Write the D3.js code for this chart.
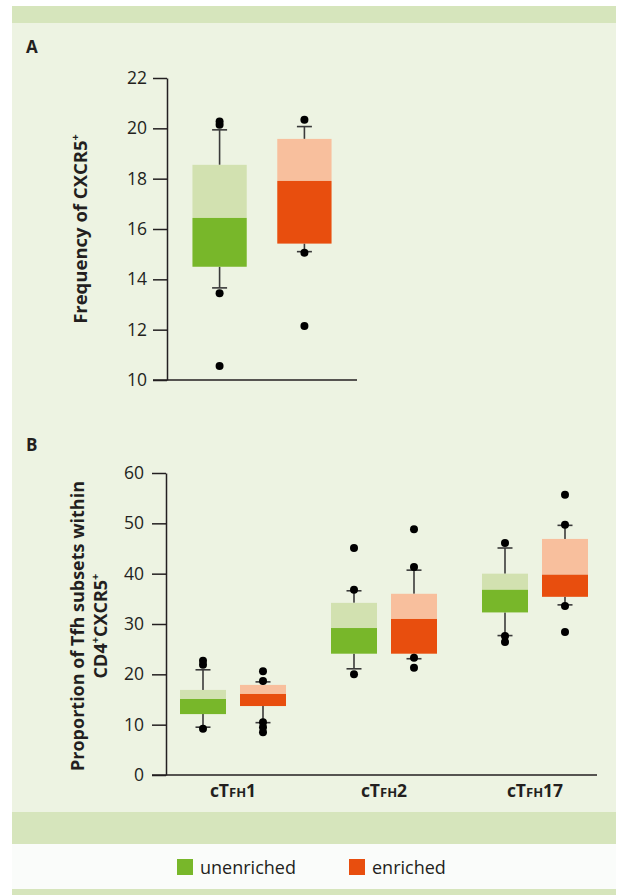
<!DOCTYPE html>
<html>
<head>
<meta charset="utf-8">
<script src="https://cdn.jsdelivr.net/npm/d3@7"></script>
<style>
  body { margin: 0; background: #fff; }
  svg text { font-family: "Open Sans", "Noto Sans", sans-serif; fill: #231f20; }
</style>
</head>
<body>
<div id="chart"></div>
<script>
// series
const seriesNames = ['unenriched', 'enriched'];
const colorsDark = ['#78b72a', '#e84e0e'];
const colorsLight = ['#d2e1b0', '#f8bf9d'];

// panel A: [whisker low, q1, median, q3, whisker high] per series
const aBox = [
  [13.66, 14.5, 16.44, 18.55, 19.94],
  [15.1, 15.42, 17.91, 19.58, 20.07]
];
const aDots = [
  [20.27, 20.14, 13.45, 10.56],
  [20.34, 15.06, 12.15]
];
const aTicks = [10, 12, 14, 16, 18, 20, 22];

// panel B
const groups = ['1', '2', '17'];
const bUnenrichedBox = [
  [9.5, 12.1, 15.1, 16.9, 20.9],
  [21.1, 24.1, 29.2, 34.2, 36.6],
  [27.7, 32.3, 36.8, 40.0, 45.1]
];
const bUnenrichedDots = [
  [22.7, 21.9, 9.2],
  [45.1, 36.8, 20.0],
  [46.1, 27.6, 26.4]
];
const bEnrichedBox = [
  [10.4, 13.7, 16.1, 17.9, 18.5],
  [23.1, 24.1, 31.0, 36.0, 40.7],
  [33.8, 35.4, 39.8, 46.9, 49.6]
];
const bEnrichedDots = [
  [20.6, 18.7, 10.5, 9.5, 8.5],
  [48.8, 41.3, 23.3, 21.3],
  [55.7, 49.7, 33.6, 28.4]
];
const bTicks = [0, 10, 20, 30, 40, 50, 60];

const W = 617, H = 895;
const svg = d3.select('#chart').append('svg')
  .attr('width', W)
  .attr('height', H);

// background panels
svg.append('rect').attr('x', 12).attr('y', 6).attr('width', 604).attr('height', 17).attr('fill', '#d6e5bc');
svg.append('rect').attr('x', 12).attr('y', 23).attr('width', 604).attr('height', 789).attr('fill', '#edf3e2');
svg.append('rect').attr('x', 12).attr('y', 812).attr('width', 604).attr('height', 32).attr('fill', '#d6e5bc');
svg.append('rect').attr('x', 12).attr('y', 844).attr('width', 604).attr('height', 45).attr('fill', '#fafcfa');
svg.append('rect').attr('x', 12).attr('y', 889).attr('width', 604).attr('height', 6).attr('fill', '#d6e5bc');

const axisColor = '#231f20';
const whiskerColor = '#3a3a3a';

function styleAxis(g) {
  g.selectAll('path, line').attr('stroke', axisColor).attr('stroke-width', 1.5);
  g.selectAll('text').attr('font-size', 17.5).attr('fill', axisColor)
    .style('font-family', '"Open Sans", sans-serif');
}

// draw one box: stats = [lo, q1, med, q3, hi]
function drawBox(g, cx, w, stats, dots, si, y) {
  const [lo, q1, med, q3, hi] = stats;
  // whiskers
  g.append('line').attr('x1', cx).attr('x2', cx).attr('y1', y(q3)).attr('y2', y(hi))
    .attr('stroke', whiskerColor).attr('stroke-width', 1.6);
  g.append('line').attr('x1', cx).attr('x2', cx).attr('y1', y(q1)).attr('y2', y(lo))
    .attr('stroke', whiskerColor).attr('stroke-width', 1.6);
  [lo, hi].forEach(v => {
    g.append('line').attr('x1', cx - 7.5).attr('x2', cx + 7.5).attr('y1', y(v)).attr('y2', y(v))
      .attr('stroke', whiskerColor).attr('stroke-width', 1.6);
  });
  // box halves
  g.append('rect').attr('x', cx - w / 2).attr('width', w)
    .attr('y', y(q3)).attr('height', y(med) - y(q3)).attr('fill', colorsLight[si]);
  g.append('rect').attr('x', cx - w / 2).attr('width', w)
    .attr('y', y(med)).attr('height', y(q1) - y(med)).attr('fill', colorsDark[si]);
  // dots
  g.selectAll(null).data(dots).enter().append('circle')
    .attr('cx', cx).attr('cy', d => y(d)).attr('r', 4).attr('fill', '#000');
}

// ---------- Panel A ----------
svg.append('text').attr('x', 26).attr('y', 53).attr('font-size', 17).attr('font-weight', 'bold').text('A');

const yA = d3.scaleLinear().domain([10, 22]).range([380, 78]);
const xA = d3.scaleBand().domain(seriesNames).range([167, 357]).paddingInner(0.36).paddingOuter(0.3);

const gA = svg.append('g');
gA.append('g').attr('transform', 'translate(167,0)')
  .call(d3.axisLeft(yA).tickValues(aTicks).tickSize(14).tickSizeOuter(0).tickPadding(6))
  .call(styleAxis);
gA.append('line').attr('x1', 153).attr('x2', 357).attr('y1', yA(10)).attr('y2', yA(10))
  .attr('stroke', axisColor).attr('stroke-width', 1.5);

seriesNames.forEach((s, i) => {
  drawBox(gA, xA(s) + xA.bandwidth() / 2, xA.bandwidth(), aBox[i], aDots[i], i, yA);
});

const titleA = svg.append('text')
  .attr('transform', 'translate(87,229) rotate(-90)')
  .attr('text-anchor', 'middle').attr('font-size', 18.5).attr('font-weight', 'bold');
titleA.append('tspan').text('Frequency of CXCR5');
titleA.append('tspan').attr('font-size', 11).attr('dy', -8).text('+');

// ---------- Panel B ----------
svg.append('text').attr('x', 26).attr('y', 451).attr('font-size', 17).attr('font-weight', 'bold').text('B');

const yB = d3.scaleLinear().domain([0, 60]).range([775, 473]);
const xB = d3.scaleBand().domain(groups).range([157.5, 610.5]);
const xInner = d3.scaleBand().domain(seriesNames).range([-53, 53]).paddingInner(0.2333);

const gB = svg.append('g');
gB.append('g').attr('transform', 'translate(166,0)')
  .call(d3.axisLeft(yB).tickValues(bTicks).tickSize(14).tickSizeOuter(0).tickPadding(8))
  .call(styleAxis);
gB.append('line').attr('x1', 152).attr('x2', 597).attr('y1', yB(0)).attr('y2', yB(0))
  .attr('stroke', axisColor).attr('stroke-width', 1.5);

const boxesB = [bUnenrichedBox, bEnrichedBox];
const dotsB = [bUnenrichedDots, bEnrichedDots];
groups.forEach((grp, gi) => {
  const gc = xB(grp) + xB.bandwidth() / 2;
  seriesNames.forEach((s, si) => {
    const cx = gc + xInner(s) + xInner.bandwidth() / 2;
    drawBox(gB, cx, xInner.bandwidth(), boxesB[si][gi], dotsB[si][gi], si, yB);
  });
  const lbl = gB.append('text').attr('x', gc).attr('y', 797)
    .attr('text-anchor', 'middle').attr('font-weight', 'bold').attr('font-size', 17.5);
  lbl.append('tspan').text('cT');
  lbl.append('tspan').attr('font-size', 13).text('FH');
  lbl.append('tspan').text(grp);
});

const titleB = svg.append('text')
  .attr('transform', 'translate(0,626) rotate(-90)')
  .attr('text-anchor', 'middle').attr('font-size', 18).attr('font-weight', 'bold');
titleB.append('tspan').attr('x', 0).attr('y', 84).text('Proportion of Tfh subsets within');
const line2 = svg.append('text')
  .attr('transform', 'translate(0,626) rotate(-90)')
  .attr('text-anchor', 'middle').attr('font-size', 18).attr('font-weight', 'bold');
line2.append('tspan').attr('x', 0).attr('y', 107).text('CD4');
line2.append('tspan').attr('font-size', 11).attr('dy', -8).text('+');
line2.append('tspan').attr('dy', 8).text('CXCR5');
line2.append('tspan').attr('font-size', 11).attr('dy', -8).text('+');

// ---------- Legend ----------
const legendX = [177, 349];
const legend = svg.append('g');
seriesNames.forEach((s, i) => {
  legend.append('rect').attr('x', legendX[i]).attr('y', 859).attr('width', 16).attr('height', 16)
    .attr('fill', colorsDark[i]);
  legend.append('text').attr('x', legendX[i] + 23).attr('y', 874).attr('font-size', 18)
    .text(s);
});
</script>
</body>
</html>
